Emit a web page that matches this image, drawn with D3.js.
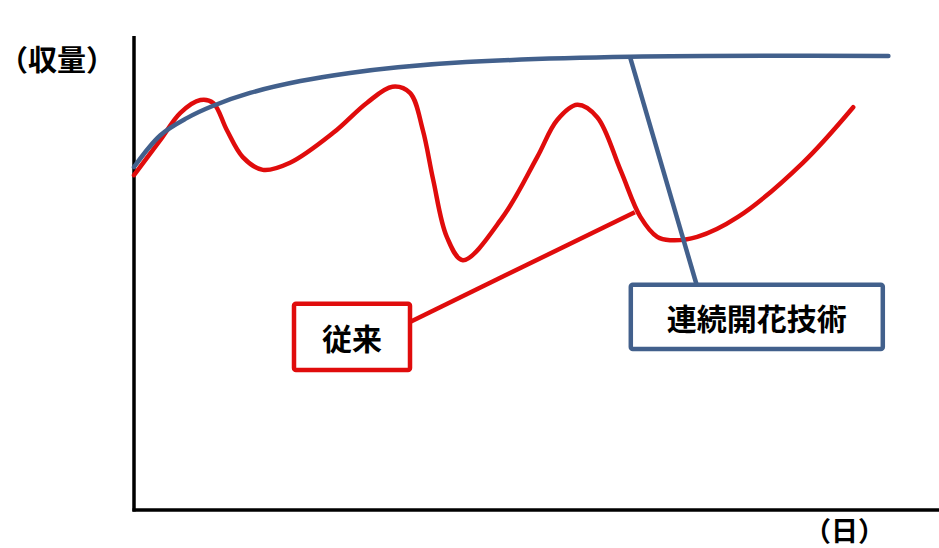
<!DOCTYPE html>
<html lang="ja">
<head>
<meta charset="UTF-8" />
<title>収量の推移</title>
<script src="https://d3js.org/d3.v7.min.js"></script>
<style>
  body { margin: 0; background: #fff; }
  svg { display: block; }
  .axis-line { stroke: #000; stroke-width: 3.5px; }
  .series { fill: none; stroke-width: 4.5px; stroke-linejoin: round; stroke-linecap: round; }
  .lbl { font-family: "Noto Sans CJK JP", sans-serif; font-weight: 700; fill: #000; }
</style>
</head>
<body>
<svg width="939" height="548"></svg>
<script>
// 従来 (red) : [日, 収量] — 読み取り値
const conventional = [
  [0, 70.5], [3.3, 77.9], [5.8, 83.6], [8.3, 86.3], [9.9, 85.7], [11.6, 80],
  [13.6, 74.3], [16.1, 71.6], [19.5, 73.1], [24.9, 79.4], [29.1, 85.7],
  [32.3, 89.1], [34.5, 87.8], [36.1, 80], [37.4, 69.5], [39.1, 57.5],
  [41.1, 52.6], [46.1, 61.7], [50.4, 74.3], [52.9, 82.1], [55.4, 85.3],
  [57.9, 82.7], [60.8, 71.6], [63.3, 61.7], [65.4, 57.5], [67, 56.8],
  [70.4, 57.5], [75.5, 61.7], [83.6, 73.1], [89.9, 84.8]
];
// 連続開花技術 (blue)
const continuous = [
  [0, 72.2], [3.3, 78.9], [6.6, 82.5], [9.9, 85.1], [14.5, 87.8], [20.8, 90.3],
  [27, 92], [33, 93.2], [41.5, 94.3], [62, 95.4], [94.3, 95.6]
];
const seriesNames = ["従来", "連続開花技術"];
const axisLabels = ["（収量）", "（日）"];

const svg = d3.select("svg");
const x = d3.scaleLinear().domain([0, 100]).range([134, 934]);
const y = d3.scaleLinear().domain([0, 100]).range([510, 35]);

const red = "#e00c0c", blue = "#42608c";

// 軸
svg.append("line").attr("class", "axis-line")
  .attr("x1", x(0)).attr("x2", x(0)).attr("y1", 36).attr("y2", y(0) + 1.5);
svg.append("line").attr("class", "axis-line")
  .attr("x1", x(0) - 1.5).attr("x2", 939).attr("y1", y(0)).attr("y2", y(0));

svg.append("text").attr("class", "lbl").attr("x", -1).attr("y", 71)
  .style("font-size", "29px").text(axisLabels[0]);
svg.append("text").attr("class", "lbl").attr("x", 804).attr("y", 541)
  .style("font-size", "27px").text(axisLabels[1]);

const line = d3.line()
  .x(d => x(d[0])).y(d => y(d[1]))
  .curve(d3.curveCatmullRom.alpha(0.5));

// コールアウト
function callout(anchor, tip, box, color, text) {
  svg.append("line")
    .attr("x1", x(anchor[0])).attr("y1", y(anchor[1]))
    .attr("x2", x(tip[0])).attr("y2", y(tip[1]))
    .attr("stroke", color).attr("stroke-width", 4.5);
  svg.append("rect")
    .attr("x", x(box[0])).attr("y", y(box[1]))
    .attr("width", x(box[2]) - x(box[0])).attr("height", y(box[3]) - y(box[1]))
    .attr("fill", "#fff").attr("stroke", color).attr("stroke-width", 4.5)
    .attr("rx", 2);
  svg.append("text").attr("class", "lbl")
    .attr("x", (x(box[0]) + x(box[2])) / 2)
    .attr("y", (y(box[1]) + y(box[3])) / 2)
    .attr("text-anchor", "middle").attr("dominant-baseline", "central")
    .style("font-size", "30px").text(text);
}

svg.append("path").attr("class", "series").attr("stroke", red).attr("d", line(conventional));
callout([62.6, 62.7], [34.5, 39.6], [20, 43.4, 34.5, 29.5], red, seriesNames[0]);

svg.append("path").attr("class", "series").attr("stroke", blue).attr("d", line(continuous));
callout([62, 95.4], [70.4, 47.0], [62.1, 47.4, 93.6, 33.9], blue, seriesNames[1]);
</script>
</body>
</html>
